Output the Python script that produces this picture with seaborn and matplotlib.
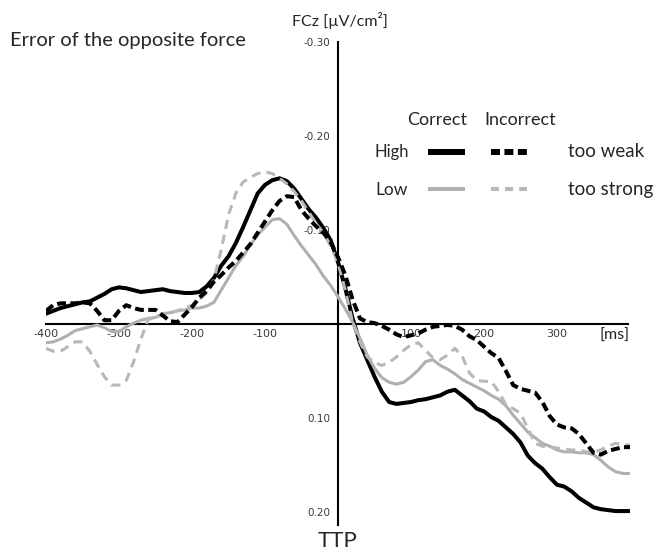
import matplotlib
matplotlib.use("Agg")
import matplotlib.pyplot as plt
from matplotlib.lines import Line2D
import pandas as pd
import seaborn as sns

# Time axis (ms relative to TTP)
time_ms = list(range(-400, 401, 10))

# FCz amplitude (µV/cm²), negative plotted upwards
high_correct = [
    -0.011, -0.014, -0.017, -0.019, -0.021, -0.023, -0.024, -0.028, -0.032, -0.037,
    -0.039, -0.038, -0.036, -0.034, -0.035, -0.036, -0.037, -0.035, -0.034, -0.033,
    -0.033, -0.034, -0.040, -0.049, -0.062, -0.072, -0.086, -0.103, -0.121, -0.139,
    -0.148, -0.153, -0.155, -0.152, -0.144, -0.133, -0.122, -0.113, -0.102, -0.089,
    -0.066, -0.038, -0.006, 0.020, 0.038, 0.056, 0.072, 0.083, 0.085, 0.084,
    0.083, 0.081, 0.080, 0.078, 0.076, 0.072, 0.070, 0.076, 0.082, 0.090,
    0.093, 0.099, 0.103, 0.110, 0.117, 0.126, 0.140, 0.148, 0.154, 0.163,
    0.171, 0.173, 0.178, 0.185, 0.190, 0.195, 0.197, 0.198, 0.199, 0.199, 0.199,
]
high_incorrect = [
    -0.014, -0.020, -0.022, -0.022, -0.022, -0.023, -0.022, -0.014, -0.004, -0.004,
    -0.014, -0.020, -0.017, -0.015, -0.015, -0.015, -0.009, -0.003, -0.002, -0.010,
    -0.018, -0.028, -0.035, -0.045, -0.052, -0.060, -0.067, -0.076, -0.085, -0.097,
    -0.109, -0.121, -0.131, -0.136, -0.135, -0.121, -0.112, -0.104, -0.097, -0.087,
    -0.071, -0.052, -0.026, -0.006, -0.002, -0.001, 0.002, 0.006, 0.011, 0.014,
    0.012, 0.010, 0.006, 0.003, 0.002, 0.001, 0.002, 0.006, 0.013, 0.017,
    0.024, 0.031, 0.036, 0.050, 0.065, 0.069, 0.071, 0.073, 0.083, 0.098,
    0.107, 0.110, 0.111, 0.117, 0.127, 0.137, 0.139, 0.135, 0.133, 0.131, 0.131,
]
low_correct = [
    0.020, 0.019, 0.016, 0.012, 0.007, 0.005, 0.003, 0.001, 0.004, 0.008,
    0.008, 0.003, -0.001, -0.004, -0.006, -0.007, -0.011, -0.012, -0.014, -0.015,
    -0.017, -0.017, -0.019, -0.023, -0.036, -0.049, -0.062, -0.072, -0.084, -0.095,
    -0.103, -0.111, -0.112, -0.106, -0.094, -0.083, -0.073, -0.063, -0.051, -0.041,
    -0.029, -0.016, -0.002, 0.015, 0.033, 0.047, 0.057, 0.062, 0.064, 0.062,
    0.056, 0.049, 0.040, 0.038, 0.044, 0.048, 0.053, 0.059, 0.063, 0.067,
    0.071, 0.076, 0.080, 0.087, 0.097, 0.106, 0.115, 0.121, 0.127, 0.130,
    0.134, 0.136, 0.136, 0.137, 0.137, 0.139, 0.145, 0.152, 0.157, 0.159, 0.159,
]
low_incorrect = [
    0.026, 0.029, 0.029, 0.024, 0.019, 0.019, 0.029, 0.043, 0.056, 0.065,
    0.065, 0.060, 0.040, 0.016, -0.005, -0.007, -0.010, -0.012, -0.014, -0.017,
    -0.020, -0.026, -0.033, -0.047, -0.079, -0.116, -0.139, -0.151, -0.156, -0.160,
    -0.162, -0.160, -0.155, -0.149, -0.141, -0.131, -0.119, -0.107, -0.097, -0.083,
    -0.065, -0.036, -0.002, 0.019, 0.035, 0.041, 0.044, 0.041, 0.035, 0.028,
    0.022, 0.020, 0.028, 0.036, 0.038, 0.033, 0.026, 0.034, 0.052, 0.060,
    0.061, 0.061, 0.072, 0.086, 0.090, 0.095, 0.111, 0.127, 0.130, 0.131,
    0.132, 0.133, 0.134, 0.134, 0.136, 0.136, 0.134, 0.130, 0.127, 0.128, 0.129,
]

y_ticks = [-0.30, -0.20, -0.10, 0.10, 0.20]
y_tick_labels = ["-0.30", "-0.20", "-0.10", "0.10", "0.20"]
x_ticks = [-400, -300, -200, -100, 100, 200, 300]
x_tick_labels = ["-400", "-300", "-200", "-100", "100", "200", "300"]

sns.set_style("white")
plt.rcParams["font.family"] = ["Lato", "DejaVu Sans"]

W, H = 656, 554


def fig_xy(px, py):
    """Pixel position (from top-left) to figure fraction."""
    return px / W, 1 - py / H


fig = plt.figure(figsize=(W / 100, H / 100), dpi=100)
fig.patch.set_facecolor("white")
ax = fig.add_axes([46 / W, 1 - 530.8 / H, 584 / W, 488.8 / H])
ax.patch.set_alpha(0)

series = [
    ("High / Correct", high_correct, "#000000", 2.9, "-"),
    ("Low / Correct", low_correct, "#b0b0b0", 2.2, "-"),
    ("Low / Incorrect", low_incorrect, "#b8b8b8", 2.2, (0, (3.0, 2.0))),
    ("High / Incorrect", high_incorrect, "#000000", 2.9, (0, (2.2, 1.1))),
]

frames = []
for name, vals, *_ in series:
    frames.append(pd.DataFrame({"time": time_ms, "amp": vals, "cond": name}))
df = pd.concat(frames, ignore_index=True)

for name, vals, color, lw, ls in series:
    sns.lineplot(
        data=df[df["cond"] == name], x="time", y="amp", ax=ax,
        color=color, linewidth=lw, linestyle=ls, errorbar=None,
        legend=False, zorder=3,
    )

ax.set_xlim(-400, 400)
ax.set_ylim(0.22, -0.30)

for side in ("top", "right"):
    ax.spines[side].set_visible(False)
ax.spines["left"].set_position(("data", 0))
ax.spines["bottom"].set_position(("data", 0))
for side in ("left", "bottom"):
    ax.spines[side].set_linewidth(1.5)
    ax.spines[side].set_color("black")
    ax.spines[side].set_zorder(2)
ax.spines["bottom"].set_bounds(-400, 397)
ax.spines["left"].set_bounds(-0.30, 0.214)

ax.set_xticks(x_ticks, x_tick_labels)
ax.set_yticks(y_ticks, y_tick_labels)
ax.tick_params(axis="y", direction="out", length=4, width=1.3, pad=1.5,
               labelsize=7.5, labelcolor="#3a3a3a", labelfontfamily="DejaVu Sans")
ax.tick_params(axis="x", direction="out", length=2, width=1.0, pad=1.5,
               labelsize=8, labelcolor="#3a3a3a", labelfontfamily="DejaVu Sans")
ax.set_xlabel("")
ax.set_ylabel("")

# Titles and axis captions
fig.text(*fig_xy(10, 46), "Error of the opposite force", fontsize=14.5, va="baseline", ha="left")
fig.text(*fig_xy(340, 26), "FCz [µV/cm²]", fontsize=11.5, va="baseline", ha="center")
fig.text(*fig_xy(615, 336), "[ms]", fontsize=11.5, va="center", ha="center", color="#222222")
fig.text(*fig_xy(338, 531), "TTP", fontsize=16, va="top", ha="center")

# Legend grid
fig.text(*fig_xy(437, 125), "Correct", fontsize=13, va="baseline", ha="center")
fig.text(*fig_xy(520, 125), "Incorrect", fontsize=13, va="baseline", ha="center")
fig.text(*fig_xy(375, 157), "High", fontsize=12, va="baseline", ha="left")
fig.text(*fig_xy(375, 195), "Low", fontsize=12.5, va="baseline", ha="left")
fig.text(*fig_xy(568, 157), "too weak", fontsize=13.5, va="baseline", ha="left")
fig.text(*fig_xy(568, 195), "too strong", fontsize=13.5, va="baseline", ha="left")


def legend_line(x0, x1, y, color, lw, ls):
    (fx0, fy), (fx1, _) = fig_xy(x0, y), fig_xy(x1, y)
    fig.add_artist(Line2D([fx0, fx1], [fy, fy], transform=fig.transFigure,
                          color=color, linewidth=lw, linestyle=ls,
                          solid_capstyle="butt", dash_capstyle="butt"))


legend_line(428, 465, 152, "#000000", 4.3, "-")
legend_line(491, 527, 152, "#000000", 4.3, (0, (1.5, 0.75)))
legend_line(428, 465, 189, "#b0b0b0", 2.9, "-")
legend_line(491, 527, 189, "#b8b8b8", 2.9, (0, (2.0, 1.5)))

fig.savefig("out.png", dpi=100, facecolor="white")
